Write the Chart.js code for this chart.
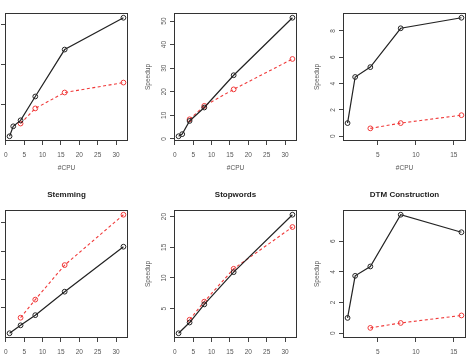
<!DOCTYPE html>
<html>
<head>
<meta charset="utf-8">
<script src="https://cdn.jsdelivr.net/npm/chart.js@4"></script>
<style>
  html, body { margin: 0; padding: 0; background: #fff; }
  body { width: 468px; height: 358px; position: relative; overflow: hidden; }
  canvas { position: absolute; }
</style>
</head>
<body>
<canvas id="p1" width="169" height="197"></canvas>
<canvas id="p2" width="169" height="197"></canvas>
<canvas id="p3" width="169" height="197"></canvas>
<canvas id="p4" width="169" height="197"></canvas>
<canvas id="p5" width="169" height="197"></canvas>
<canvas id="p6" width="169" height="197"></canvas>
<script>
// cpu counts
const cpuAll = [1, 2, 4, 8, 16, 32];
const cpuNo2 = [1, 4, 8, 16, 32];
const cpuPar = [4, 8, 16, 32];
const cpuSmall = [1, 2, 4, 8, 16];
const cpuSmallPar = [4, 8, 16];

// speedups (black = solid, red = dashed)
const p1Black = [1, 2.25, 3, 6, 11.9, 15.9];
const p1Red = [2.6, 4.5, 6.5, 7.75];
const p2Black = [1.1, 2, 7.6, 13.3, 27, 51.4];
const p2Red = [8.3, 14, 21, 33.9];
const p3Black = [1, 4.5, 5.25, 8.2, 9.0];
const p3Red = [0.6, 1.0, 1.6];
const stemBlack = [1, 3.8, 7.4, 15.7, 31.6];
const stemRed = [6.5, 12.9, 25.1, 42.9];
const stopBlack = [1, 2.75, 5.7, 10.95, 20.3];
const stopRed = [3.2, 6.15, 11.5, 18.3];
const dtmBlack = [1, 3.74, 4.35, 7.72, 6.58];
const dtmRed = [0.35, 0.67, 1.16];

// tick labels
const xTicksWide = [0, 5, 10, 15, 20, 25, 30];
const xTicksNarrow = [5, 10, 15];
const p1YTicks = [5, 10, 15];
const p2YTicks = [0, 10, 20, 30, 40, 50];
const p3YTicks = [0, 2, 4, 6, 8];
const stemYTicks = [10, 20, 30, 40];
const stopYTicks = [5, 10, 15, 20];
const dtmYTicks = [0, 2, 4, 6];

const titles = ["", "", "", "Stemming", "Stopwords", "DTM Construction"];

const FONT = "'Liberation Sans', Arial, sans-serif";
const GREY = "#555";

// R-like axis range: data range padded by 4% each side
function rRange(vals, fromZero) {
  let lo = Math.min(...vals);
  const hi = Math.max(...vals);
  if (fromZero) lo = Math.min(lo, 0);
  const d = (hi - lo) * 0.04;
  return [lo - d, hi + d];
}

const frame = {
  id: "frame",
  afterDraw(chart) {
    const { ctx, chartArea: a } = chart;
    ctx.save();
    ctx.strokeStyle = "#333";
    ctx.lineWidth = 1;
    ctx.strokeRect(Math.round(a.left) + 0.5, Math.round(a.top) + 0.5,
      Math.round(a.right - a.left) - 1, Math.round(a.bottom - a.top) - 1);
    const t = chart.options.plugins.rTitle.text;
    if (t) {
      ctx.fillStyle = "#222";
      ctx.font = "bold 8px " + FONT;
      ctx.textAlign = "center";
      ctx.textBaseline = "middle";
      ctx.fillText(t, (a.left + a.right) / 2, a.top - 15);
    }
    ctx.restore();
  },
};

function makePanel(id, left, top, p) {
  const el = document.getElementById(id);
  el.style.left = left - 40 + "px";
  el.style.top = top - 32 + "px";
  const allY = p.black.concat(p.red);
  const [yMin, yMax] = rRange(allY, p.fromZero);
  const [xMin, xMax] = rRange(p.cpuBlack);
  const maxLen = Math.max(...p.yTicks.map((v) => String(v).length));
  const tickGrid = { drawOnChartArea: false, drawTicks: true, tickLength: 4, color: "#444", lineWidth: 1 };

  new Chart(el, {
    type: "line",
    data: {
      datasets: [
        {
          data: p.cpuBlack.map((x, i) => ({ x, y: p.black[i] })),
          borderColor: "#222",
          borderWidth: 1.2,
          pointStyle: "circle",
          pointRadius: 2.4,
          pointBorderWidth: 1,
          pointBorderColor: "#222",
          pointBackgroundColor: "rgba(0,0,0,0)",
          tension: 0,
        },
        {
          data: p.cpuRed.map((x, i) => ({ x, y: p.red[i] })),
          borderColor: "#f03a3a",
          borderWidth: 1.1,
          borderDash: [3, 2.5],
          pointStyle: "circle",
          pointRadius: 2.4,
          pointBorderWidth: 1,
          pointBorderColor: "#f03a3a",
          pointBackgroundColor: "rgba(0,0,0,0)",
          tension: 0,
        },
      ],
    },
    options: {
      responsive: false,
      animation: false,
      devicePixelRatio: 1,
      layout: { padding: { left: 0, top: 32, right: 6, bottom: 0 } },
      plugins: {
        legend: { display: false },
        tooltip: { enabled: false },
        rTitle: { text: p.title },
      },
      scales: {
        x: {
          type: "linear",
          min: xMin,
          max: xMax,
          afterBuildTicks: (s) => { s.ticks = p.xTicks.map((v) => ({ value: v })); },
          afterFit: (s) => { s.height = 37; },
          border: { display: false },
          grid: tickGrid,
          ticks: { font: { family: FONT, size: 6.5 }, color: GREY, padding: 6, maxRotation: 0, autoSkip: false },
          title: { display: true, text: "#CPU", font: { family: FONT, size: 6.5 }, color: GREY, padding: { top: 0, bottom: 6 } },
        },
        y: {
          type: "linear",
          min: yMin,
          max: yMax,
          afterBuildTicks: (s) => { s.ticks = p.yTicks.map((v) => ({ value: v })); },
          afterFit: (s) => { s.width = 40; },
          border: { display: false },
          grid: tickGrid,
          ticks: {
            font: { family: FONT, size: 6.5 },
            color: GREY,
            minRotation: 90,
            maxRotation: 90,
            crossAlign: "center",
            padding: 6 - 1.8 * maxLen,
            autoSkip: false,
          },
          title: { display: true, text: "Speedup", font: { family: FONT, size: 6.5 }, color: GREY, padding: { top: 10, bottom: 0 } },
        },
      },
    },
    plugins: [frame],
  });
}

makePanel("p1", 5, 13, { cpuBlack: cpuAll, black: p1Black, cpuRed: cpuPar, red: p1Red, xTicks: xTicksWide, yTicks: p1YTicks, title: titles[0] });
makePanel("p2", 174, 13, { cpuBlack: cpuAll, black: p2Black, cpuRed: cpuPar, red: p2Red, xTicks: xTicksWide, yTicks: p2YTicks, title: titles[1] });
makePanel("p3", 343, 13, { cpuBlack: cpuSmall, black: p3Black, cpuRed: cpuSmallPar, red: p3Red, xTicks: xTicksNarrow, yTicks: p3YTicks, title: titles[2], fromZero: true });
makePanel("p4", 5, 210, { cpuBlack: cpuNo2, black: stemBlack, cpuRed: cpuPar, red: stemRed, xTicks: xTicksWide, yTicks: stemYTicks, title: titles[3] });
makePanel("p5", 174, 210, { cpuBlack: cpuNo2, black: stopBlack, cpuRed: cpuPar, red: stopRed, xTicks: xTicksWide, yTicks: stopYTicks, title: titles[4] });
makePanel("p6", 343, 210, { cpuBlack: cpuSmall, black: dtmBlack, cpuRed: cpuSmallPar, red: dtmRed, xTicks: xTicksNarrow, yTicks: dtmYTicks, title: titles[5], fromZero: true });
</script>
</body>
</html>
